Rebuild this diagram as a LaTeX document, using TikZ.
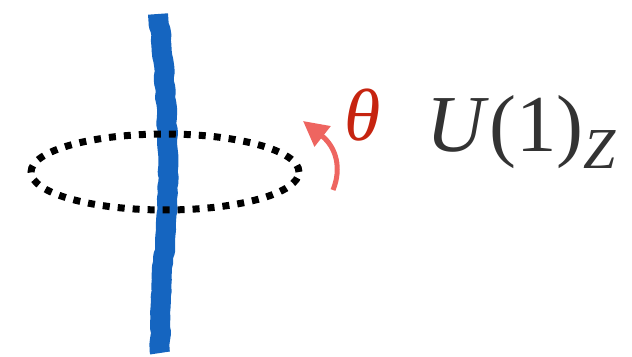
\documentclass[tikz,border=0pt]{standalone}
\usepackage{fontspec}
\setmainfont{Liberation Serif}
\usetikzlibrary{arrows.meta,decorations.pathmorphing}
\definecolor{stringblue}{HTML}{1565C0}
\definecolor{thetared}{HTML}{C62410}
\definecolor{arrowred}{HTML}{EE6560}
\definecolor{labelgray}{HTML}{333333}
\begin{document}
\begin{tikzpicture}[x=0.02cm,y=-0.02cm,string/.style={draw=stringblue,line width=0.4cm,line join=round,decorate,decoration={random steps,segment length=3pt,amplitude=0.5pt}},loopline/.style={draw=black,line width=0.14cm,dash pattern=on 0.14cm off 0.16cm},rotarrow/.style={-{Triangle[length=0.5cm,width=0.5cm]},draw=arrowred,line width=0.1cm},mathlabel/.style={anchor=base west,inner sep=0pt}]
\useasboundingbox (0,0) rectangle (632,357);
\coordinate (stringtop) at (158,14); \coordinate (stringbot) at (160,353);
\draw[string] (stringtop) .. controls (168,90) and (172,200) .. (162,270) -- (stringbot);
\node[draw=none,inner sep=0pt] (loop) at (165,172) {};
\draw[loopline] (loop) ellipse [x radius=2.68cm,y radius=0.76cm];
\coordinate (arrowstart) at (333,190); \coordinate (arrowtip) at (303,121);
\draw[rotarrow] (arrowstart) .. controls (342,168) and (336,147) .. (arrowtip);
\node[mathlabel,text=thetared,font=\fontsize{42}{42}\selectfont\itshape] (theta) at (344,141) {θ};
\node[mathlabel,text=labelgray,font=\fontsize{46}{46}\selectfont] (group) at (426,152) {\textit{U}(1)\raisebox{-0.2em}{\fontsize{33}{33}\selectfont\itshape Z}};
\end{tikzpicture}
\end{document}
